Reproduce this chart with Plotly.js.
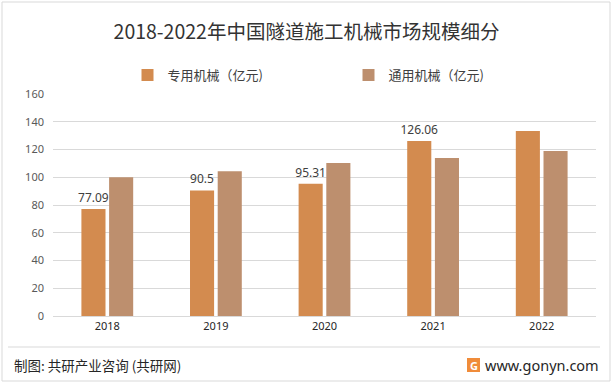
<!DOCTYPE html>
<html><head><meta charset="utf-8">
<script src="https://cdn.plot.ly/plotly-3.0.1.min.js"></script>
<style>html,body{margin:0;padding:0;background:#fff;}#c{width:613px;height:385px;}</style>
</head><body><div id="c"></div>
<script>
var years = ['2018','2019','2020','2021','2022'];
var special = [77.09, 90.5, 95.31, 126.06, 133.3];
var general = [100, 104.4, 110.2, 113.8, 118.9];
var specialLabels = ['77.09','90.5','95.31','126.06',''];
var yTicks = [0,20,40,60,80,100,120,140,160];

var L=53, R=596, T=94, B=316;
function px(x){return (x-L)/(R-L);}
function py(y){return (B-y)/(B-T);}

var traces = [
 {type:'bar', name:'专用机械（亿元)', x:years, y:special, marker:{color:'#D38B4F'},
  text:specialLabels, textposition:'outside', cliponaxis:false, constraintext:'none',
  textfont:{family:'Noto Sans, sans-serif', size:12, color:'#404040'}, hoverinfo:'none'},
 {type:'bar', name:'通用机械（亿元)', x:years, y:general, marker:{color:'#BD8F6E'}, hoverinfo:'none'}
];
var layout = {
 width:613, height:385, margin:{l:L, r:613-R, t:T, b:385-B},
 paper_bgcolor:'#fff', plot_bgcolor:'#fff',
 font:{family:'Noto Sans CJK SC, Noto Sans, sans-serif', color:'#404040'},
 title:{text:'2018-2022年中国隧道施工机械市场规模细分', x:0.5, xanchor:'center', y:1-32/385, yanchor:'middle',
   font:{family:'Noto Sans CJK SC, sans-serif', size:19.5, color:'#333333'}},
 barmode:'group', bargap:0.49, bargroupgap:0.13,
 showlegend:true,
 legend:{orientation:'h', x:0.5+24/543, xanchor:'center', y:py(75), yanchor:'middle',
   font:{size:13, color:'#404040'}, entrywidth:176, itemwidth:30, traceorder:'normal'},
 xaxis:{type:'category', showline:true, linecolor:'#d9d9d9', linewidth:1, ticks:'',
   tickfont:{size:11, color:'#262626', family:'Noto Sans, sans-serif'}, fixedrange:true},
 yaxis:{range:[0,160], tickvals:yTicks, showgrid:true, gridcolor:'#d9d9d9', gridwidth:1,
   zeroline:false, showline:false, ticks:'', ticklabelstandoff:8,
   tickfont:{size:11, color:'#595959', family:'Noto Sans, sans-serif'}, fixedrange:true},
 shapes:[
  {type:'rect', xref:'paper', yref:'paper', x0:px(2), x1:px(610), y0:py(2), y1:py(381),
   line:{color:'#d9d9d9', width:1}},
  {type:'line', xref:'paper', yref:'paper', x0:px(8), x1:px(600), y0:py(347), y1:py(347),
   line:{color:'#d9d9d9', width:1}},
  {type:'rect', xref:'paper', yref:'paper', x0:px(467), x1:px(480), y0:py(358), y1:py(372),
   fillcolor:'#F08C3A', line:{width:0}}
 ],
 annotations:[
  {text:'制图: 共研产业咨询 (共研网)', xref:'paper', yref:'paper', x:px(12), y:py(365),
   xanchor:'left', yanchor:'middle', showarrow:false,
   font:{size:13.5, color:'#262626', family:'Noto Sans CJK SC, sans-serif'}},
  {text:'<b>G</b>', xref:'paper', yref:'paper', x:px(473.5), y:py(365),
   xanchor:'center', yanchor:'middle', showarrow:false,
   font:{size:11, color:'#ffffff', family:'Noto Sans, sans-serif'}},
  {text:'www.gonyn.com', xref:'paper', yref:'paper', x:px(601), y:py(365),
   xanchor:'right', yanchor:'middle', showarrow:false,
   font:{size:14.5, color:'#262626', family:'Noto Sans, sans-serif'}}
 ]
};
Plotly.newPlot('c', traces, layout, {displayModeBar:false, staticPlot:true});
</script></body></html>
